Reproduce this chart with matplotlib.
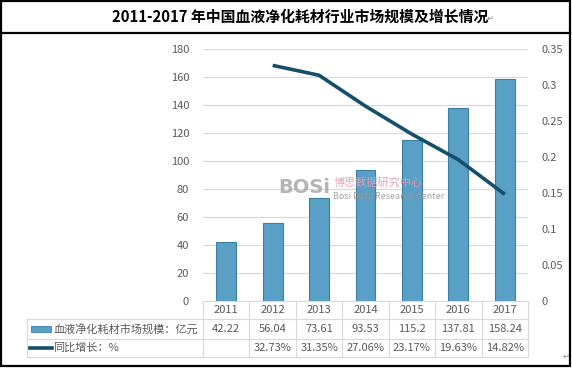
import matplotlib.pyplot as plt
import matplotlib.transforms as mtransforms
from matplotlib.patches import Rectangle
from matplotlib.lines import Line2D

plt.rcParams['font.family'] = ['Noto Sans CJK SC', 'DejaVu Sans']

years = ['2011', '2012', '2013', '2014', '2015', '2016', '2017']
scale = [42.22, 56.04, 73.61, 93.53, 115.2, 137.81, 158.24]
growth = [None, 0.3273, 0.3135, 0.2706, 0.2317, 0.1963, 0.1482]
scale_labels = ['42.22', '56.04', '73.61', '93.53', '115.2', '137.81', '158.24']
growth_labels = ['', '32.73%', '31.35%', '27.06%', '23.17%', '19.63%', '14.82%']
bar_name = '血液净化耗材市场规模：亿元'
line_name = '同比增长：%'
title = '2011-2017 年中国血液净化耗材行业市场规模及增长情况'

W, H = 572, 368
bar_color = '#5a9fc5'
bar_edge = '#3c7ea3'
line_color = '#174e6a'
grid_color = '#d9d9d9'
text_color = '#595959'


def fx(px):
    return px / W


def fy(py):
    return 1 - py / H


fig = plt.figure(figsize=(W / 100, H / 100), dpi=100)

# outer frame and title box
fig.add_artist(Rectangle((fx(1), fy(366)), fx(569), 365 / H, transform=fig.transFigure,
                         fill=False, edgecolor='black', linewidth=1.6))
fig.add_artist(Line2D([fx(1), fx(570)], [fy(33), fy(33)], transform=fig.transFigure,
                      color='black', linewidth=1.6))
fig.text(fx(112), fy(17), title, ha='left', va='center', fontsize=10.7, fontweight='bold')
fig.text(fx(487), fy(18), '↵', ha='left', va='center', fontsize=6, color='#888888',
         family='DejaVu Sans')
fig.text(fx(563), fy(356), '↵', ha='left', va='center', fontsize=6, color='#888888',
         family='DejaVu Sans')

left, right, top, bottom = 203, 528, 49, 301
ax = fig.add_axes([fx(left), fy(bottom), fx(right - left), (bottom - top) / H])
x = list(range(len(years)))
ax.bar(x, scale, width=0.43, color=bar_color, edgecolor=bar_edge, linewidth=0.8, zorder=2)
ax.set_xlim(-0.5, len(years) - 0.5)
ax.set_ylim(0, 180)
ax.set_yticks(range(0, 181, 20))
ax.yaxis.grid(True, color=grid_color, linewidth=0.8)
ax.set_axisbelow(True)
ax.tick_params(axis='y', length=0, labelsize=8, labelcolor=text_color, pad=10)
ax.set_xticks([])
for s in ['top', 'right', 'left']:
    ax.spines[s].set_visible(False)
ax.spines['bottom'].set_color(grid_color)

ax2 = ax.twinx()
gx = [i for i, g in zip(x, growth) if g is not None]
gy = [g for g in growth if g is not None]
ax2.plot(gx, gy, color=line_color, linewidth=2.6, solid_capstyle='butt', zorder=3)
ax2.set_ylim(0, 0.35)
ax2.set_yticks([0, 0.05, 0.1, 0.15, 0.2, 0.25, 0.3, 0.35])
ax2.set_yticklabels(['0', '0.05', '0.1', '0.15', '0.2', '0.25', '0.3', '0.35'])
ax2.tick_params(axis='y', length=0, labelsize=8, labelcolor=text_color, pad=10)
for s in ax2.spines.values():
    s.set_visible(False)

# watermark
ax.text(0.23, 0.43, 'BOSi', transform=ax.transAxes, fontsize=14, fontweight='bold',
        color='#a8a8a8', alpha=0.85, family='DejaVu Sans', zorder=4)
ax.text(0.40, 0.468, '博思数据研究中心', transform=ax.transAxes, fontsize=8,
        color='#e0a0b0', alpha=0.9, va='center', zorder=4)
ax.text(0.40, 0.415, 'Bosi Data Research Center', transform=ax.transAxes, fontsize=6.5,
        color='#9a9a9a', alpha=0.9, va='center', zorder=4)

# data table
tr = mtransforms.blended_transform_factory(ax.transData, fig.transFigure)
row_lines = [301, 319, 339, 357]
table_left = 27
for i in range(len(years) + 1):
    xb = i - 0.5
    ax.add_line(Line2D([xb, xb], [fy(301), fy(357)], transform=tr, color=grid_color,
                       linewidth=0.8, clip_on=False))
for yl in row_lines[1:]:
    fig.add_artist(Line2D([fx(table_left), fx(right)], [fy(yl), fy(yl)],
                          transform=fig.transFigure, color=grid_color, linewidth=0.8))
fig.add_artist(Line2D([fx(table_left), fx(table_left)], [fy(319), fy(357)],
                      transform=fig.transFigure, color=grid_color, linewidth=0.8))

for i in x:
    ax.text(i, fy(310), years[i], transform=tr, ha='center', va='center', fontsize=8,
            color=text_color, clip_on=False)
    ax.text(i, fy(329), scale_labels[i], transform=tr, ha='center', va='center', fontsize=8,
            color=text_color, clip_on=False)
    ax.text(i, fy(348), growth_labels[i], transform=tr, ha='center', va='center', fontsize=8,
            color=text_color, clip_on=False)

fig.add_artist(Rectangle((fx(31), fy(332)), fx(20), 6 / H, transform=fig.transFigure,
                         facecolor=bar_color, edgecolor=bar_edge, linewidth=0.6))
fig.text(fx(53), fy(329), bar_name, ha='left', va='center', fontsize=8, color=text_color)
fig.add_artist(Line2D([fx(30), fx(52)], [fy(348), fy(348)], transform=fig.transFigure,
                      color=line_color, linewidth=2.6))
fig.text(fx(53), fy(348), line_name, ha='left', va='center', fontsize=8, color=text_color)

fig.savefig('out.png', dpi=100)
